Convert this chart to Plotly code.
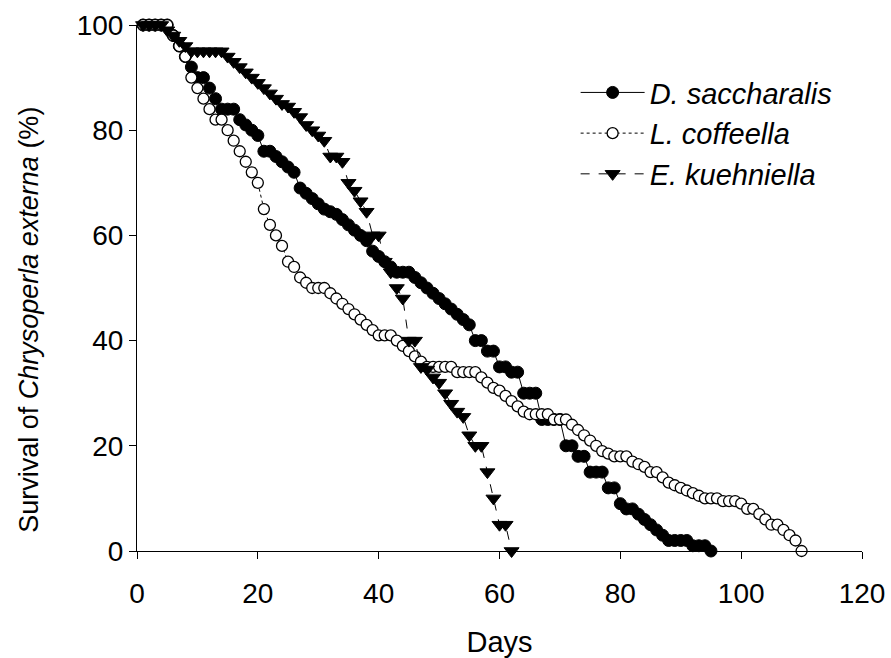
import plotly.graph_objects as go

# ---- data ----
days_ds = list(range(1, 96))
surv_ds = [100, 100, 100, 100, 100,
           98, 96, 94, 92, 90,
           90, 88, 86, 84, 84,
           84, 82, 81, 80, 79,
           76, 76, 75, 74, 73,
           72, 69, 68, 67, 66,
           65, 64.5, 64, 63, 62,
           61, 60, 59, 57, 56,
           55, 54, 53, 53, 53,
           52, 51, 50, 49, 48,
           47, 46, 45, 44, 43,
           40, 40, 38, 38, 35,
           35, 34, 34, 30, 30,
           30, 25, 25, 25, 25,
           20, 20, 18, 18, 15,
           15, 15, 12, 12, 9,
           8, 8, 7, 6, 5,
           4, 3, 2, 2, 2,
           2, 1, 1, 1, 0]

days_lc = list(range(1, 111))
surv_lc = [100, 100, 100, 100, 100,
           98, 96, 94, 90, 88,
           86, 84, 82, 82, 80,
           78, 76, 74, 72, 70,
           65, 62, 60, 58, 55,
           54, 52, 51, 50, 50,
           50, 49, 48, 47, 46,
           45, 44, 43, 42, 41,
           41, 41, 40, 39, 38,
           37, 36, 35, 35, 35,
           35, 35, 34, 34, 34,
           34, 33, 32, 31, 30.5,
           29.5, 28.5, 27.5, 26.5, 26,
           26, 26, 26, 25, 25,
           25, 24, 23, 22, 21,
           20, 19, 18.5, 18, 18,
           18, 17, 16.5, 16, 15,
           15, 14, 13, 12.5, 12,
           11.5, 11, 10.5, 10, 10,
           10, 9.5, 9.5, 9.5, 9,
           8, 8, 7, 6, 5,
           5, 4, 3, 2, 0]

days_ek = list(range(1, 63))
surv_ek = [100, 100, 100, 100, 99,
           98, 97, 96, 95, 95,
           95, 95, 95, 95, 94,
           93, 92, 91, 90, 89,
           88, 87, 86, 85, 84.5,
           83.5, 82.5, 81, 80, 79,
           78, 75, 75, 74, 70,
           68.5, 66.5, 64.5, 60, 60,
           55, 53, 50, 48, 40,
           40, 35, 34.5, 33, 32,
           30, 28, 26.5, 25.5, 22,
           20, 20, 15, 10, 5,
           5, 0]

names = ["<i>D. saccharalis</i>", "<i>L. coffeella</i>", "<i>E. kuehniella</i>"]
x_ticks = [0, 20, 40, 60, 80, 100, 120]
y_ticks = [0, 20, 40, 60, 80, 100]
y_title = "Survival of <i>Chrysoperla externa</i> (%)"

FONT = 'Arial, "Liberation Sans", sans-serif'

fig = go.Figure()
fig.add_trace(go.Scatter(
    x=days_ds, y=surv_ds, mode="lines+markers", name=names[0],
    line=dict(color="black", width=1, dash="solid"),
    marker=dict(symbol="circle", size=12, color="black",
                line=dict(color="black", width=1)),
    cliponaxis=False))
fig.add_trace(go.Scatter(
    x=days_lc, y=surv_lc, mode="lines+markers", name=names[1],
    line=dict(color="black", width=1, dash="dot"),
    marker=dict(symbol="circle", size=11, color="white",
                line=dict(color="black", width=1.3)),
    cliponaxis=False))
fig.add_trace(go.Scatter(
    x=days_ek, y=surv_ek, mode="lines+markers", name=names[2],
    line=dict(color="black", width=1, dash="dash"),
    marker=dict(symbol="triangle-down", size=13, color="black",
                line=dict(color="black", width=1)),
    cliponaxis=False))

fig.add_annotation(
    text=y_title, xref="paper", yref="paper", x=-0.15, y=0.44,
    xanchor="center", yanchor="middle", textangle=-90, showarrow=False,
    font=dict(family=FONT, size=27, color="black"))

fig.update_layout(
    width=891, height=658,
    margin=dict(l=137, r=29, t=25, b=107, autoexpand=False),
    plot_bgcolor="white", paper_bgcolor="white",
    font=dict(family=FONT, size=28, color="black"),
    showlegend=True,
    legend=dict(x=0.605, y=0.92, xanchor="left", yanchor="top",
                bgcolor="rgba(0,0,0,0)", font=dict(family=FONT, size=29, color="black"),
                itemwidth=64, tracegroupgap=0),
    xaxis=dict(range=[0, 120], tickvals=x_ticks, ticks="outside", ticklen=7,
               tickcolor="black", showline=True, linecolor="black", linewidth=1,
               showgrid=False, zeroline=False, automargin=False,
               tickfont=dict(family=FONT, size=28, color="black"), ticklabelstandoff=10,
               title=dict(text="Days", standoff=24,
                          font=dict(family=FONT, size=29, color="black"))),
    yaxis=dict(range=[0, 100], tickvals=y_ticks, ticks="outside", ticklen=7,
               tickcolor="black", showline=True, linecolor="black", linewidth=1,
               showgrid=False, zeroline=False, automargin=False,
               tickfont=dict(family=FONT, size=28, color="black")),
)

fig.write_html("out.html",
               config={"displayModeBar": False},
               post_script="document.body.style.margin='0';document.body.style.padding='0';")
